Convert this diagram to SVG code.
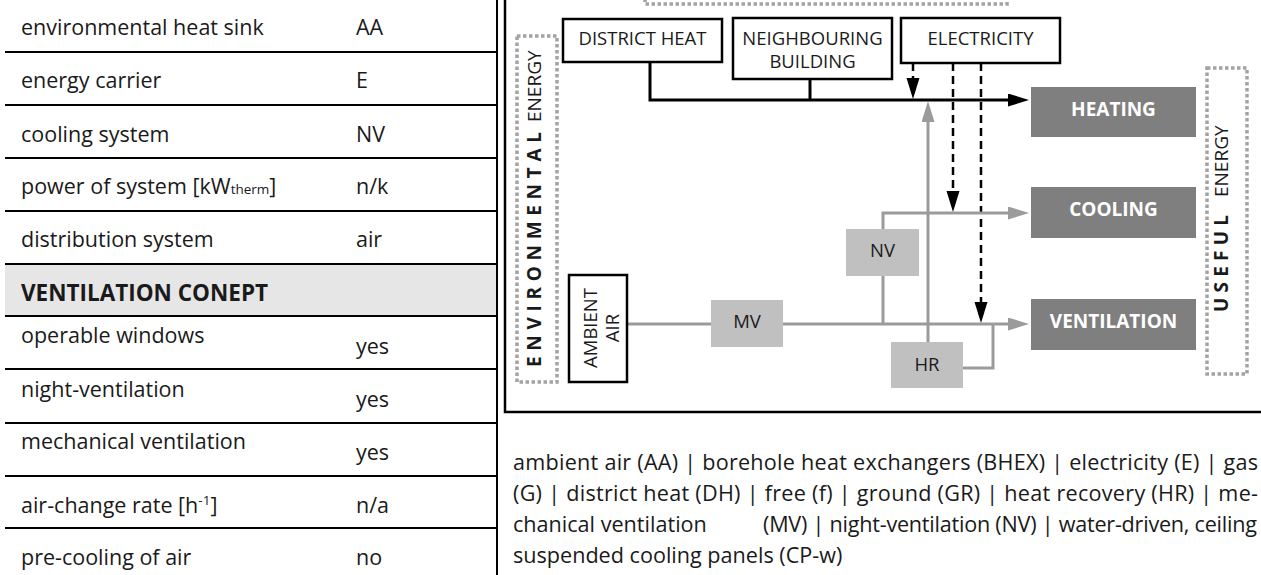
<svg xmlns="http://www.w3.org/2000/svg" width="1261" height="575" viewBox="0 0 1261 575">
<style>
text{font-family:"Open Sans","Noto Sans","Liberation Sans",sans-serif;fill:#1a1a1a}
.tb{font-size:21.5px}
.hd{font-size:22.5px;font-weight:bold}
.lgd{font-size:21.6px}
.bx{fill:#fff;stroke:#000;stroke-width:2.5}
.bt{font-size:18.5px;text-anchor:middle}
.lg{fill:#c0c0c0}
.dg{fill:#7f7f7f}
.wt{font-size:19px;font-weight:bold;fill:#fff;text-anchor:middle}
.rl{stroke:#000;stroke-width:2}
.gl{stroke:#9b9b9b;stroke-width:3;fill:none}
.bl{stroke:#000;stroke-width:3;fill:none}
.ds{stroke:#000;stroke-width:2.5;stroke-dasharray:8 5;fill:none}
.dot{stroke:#a3a3a3;stroke-width:3.5;stroke-dasharray:3.5 2.5;fill:none}
.rt{font-size:19px}
.rtb{font-size:19px;font-weight:bold}
</style>
<defs>
<marker id="ab" markerUnits="userSpaceOnUse" markerWidth="22" markerHeight="14" refX="0" refY="6.5" orient="auto"><path d="M0,0 L21,6.5 L0,13 z" fill="#000"/></marker>
<marker id="ag" markerUnits="userSpaceOnUse" markerWidth="22" markerHeight="14" refX="0" refY="6.5" orient="auto"><path d="M0,0 L21,6.5 L0,13 z" fill="#9b9b9b"/></marker>
</defs>
<rect width="1261" height="575" fill="#fff"/>

<g id="table">
<rect x="5" y="264" width="492" height="52" fill="#e6e6e6"/>
<line class="rl" x1="5" y1="52" x2="497" y2="52"/>
<line class="rl" x1="5" y1="105" x2="497" y2="105"/>
<line class="rl" x1="5" y1="158" x2="497" y2="158"/>
<line class="rl" x1="5" y1="211" x2="497" y2="211"/>
<line class="rl" x1="5" y1="264" x2="497" y2="264"/>
<line class="rl" x1="5" y1="316" x2="497" y2="316"/>
<line class="rl" x1="5" y1="369" x2="497" y2="369"/>
<line class="rl" x1="5" y1="423" x2="497" y2="423"/>
<line class="rl" x1="5" y1="476" x2="497" y2="476"/>
<line class="rl" x1="5" y1="528" x2="497" y2="528"/>
<line class="rl" x1="497" y1="0" x2="497" y2="575"/>
<text class="tb" x="21" y="35">environmental heat sink</text><text class="tb" x="356" y="35">AA</text>
<text class="tb" x="21" y="88">energy carrier</text><text class="tb" x="356" y="88">E</text>
<text class="tb" x="21" y="142">cooling system</text><text class="tb" x="356" y="142">NV</text>
<text class="tb" x="21" y="194">power of system [kW<tspan font-size="13.5">therm</tspan>]</text><text class="tb" x="356" y="194">n/k</text>
<text class="tb" x="21" y="247">distribution system</text><text class="tb" x="356" y="247">air</text>
<text class="hd" x="21" y="301">VENTILATION CONEPT</text>
<text class="tb" x="21" y="343">operable windows</text><text class="tb" x="356" y="354">yes</text>
<text class="tb" x="21" y="397">night-ventilation</text><text class="tb" x="356" y="407">yes</text>
<text class="tb" x="21" y="449">mechanical ventilation</text><text class="tb" x="356" y="460">yes</text>
<text class="tb" x="21" y="513">air-change rate [h<tspan font-size="13.5" dy="-8">-1</tspan><tspan dy="8">]</tspan></text><text class="tb" x="356" y="513">n/a</text>
<text class="tb" x="21" y="565">pre-cooling of air</text><text class="tb" x="356" y="565">no</text>
</g>

<g id="frame">
<path d="M505,0 V412 H1261" fill="none" stroke="#000" stroke-width="2.5"/>
</g>

<g id="source-group">
<rect class="dot" x="645" y="-50" width="362" height="54"/>
</g>

<g id="environmental-energy">
<rect class="dot" x="517" y="36" width="40" height="346"/>
<text class="rtb" transform="translate(541,367) rotate(-90)" textLength="235" lengthAdjust="spacing">ENVIRONMENTAL</text>
<text class="rt" transform="translate(541,122) rotate(-90)">ENERGY</text>
</g>

<g id="useful-energy">
<rect class="dot" x="1207" y="68" width="40" height="306"/>
<text class="rtb" transform="translate(1228,312) rotate(-90)" textLength="97" lengthAdjust="spacing">USEFUL</text>
<text class="rt" transform="translate(1228,197) rotate(-90)">ENERGY</text>
</g>

<g id="connectors">
<path class="bl" d="M650,62 V100 H1008" marker-end="url(#ab)"/>
<path class="bl" d="M810,79 V100"/>
<path class="ds" d="M913,63 V78" marker-end="url(#ab)"/>
<path class="ds" d="M953,63 V191" marker-end="url(#ab)"/>
<path class="ds" d="M981,63 V302" marker-end="url(#ab)"/>
<path class="gl" d="M628,324 H1008" marker-end="url(#ag)"/>
<path class="gl" d="M883,229 V213 H1008" marker-end="url(#ag)"/>
<path class="gl" d="M883,276 V324"/>
<path class="gl" d="M928,342 V122" marker-end="url(#ag)"/>
<path class="gl" d="M963,368 H993 V324"/>
</g>

<g id="district-heat">
<rect class="bx" x="563" y="19" width="159" height="43"/>
<text class="bt" x="642.5" y="45">DISTRICT HEAT</text>
</g>
<g id="neighbouring-building">
<rect class="bx" x="733" y="18" width="159" height="61"/>
<text class="bt" x="812.5" y="45">NEIGHBOURING</text>
<text class="bt" x="812.5" y="68">BUILDING</text>
</g>
<g id="electricity">
<rect class="bx" x="901" y="18" width="159" height="45"/>
<text class="bt" x="980.5" y="45">ELECTRICITY</text>
</g>
<g id="ambient-air">
<rect class="bx" x="569" y="275" width="58" height="107"/>
<text class="bt" transform="translate(597,328) rotate(-90)">AMBIENT</text>
<text class="bt" transform="translate(619,328) rotate(-90)">AIR</text>
</g>
<g id="mv">
<rect class="lg" x="711" y="300" width="72" height="47"/>
<text class="bt" x="747" y="328">MV</text>
</g>
<g id="nv">
<rect class="lg" x="846" y="229" width="73" height="47"/>
<text class="bt" x="882.5" y="257">NV</text>
</g>
<g id="hr">
<rect class="lg" x="891" y="342" width="72" height="46"/>
<text class="bt" x="927" y="371">HR</text>
</g>
<g id="heating">
<rect class="dg" x="1031" y="87" width="165" height="50"/>
<text class="wt" x="1113.5" y="116">HEATING</text>
</g>
<g id="cooling">
<rect class="dg" x="1031" y="187" width="165" height="51"/>
<text class="wt" x="1113.5" y="216">COOLING</text>
</g>
<g id="ventilation">
<rect class="dg" x="1031" y="299" width="165" height="51"/>
<text class="wt" x="1113.5" y="328">VENTILATION</text>
</g>

<g id="legend">
<text class="lgd" x="513" y="470" textLength="745" lengthAdjust="spacing">ambient air (AA) | borehole heat exchangers (BHEX) | electricity (E) | gas</text>
<text class="lgd" x="513" y="501" textLength="745" lengthAdjust="spacing">(G) | district heat (DH) | free (f) | ground (GR) | heat recovery (HR) | me-</text>
<text class="lgd" x="513" y="532">chanical ventilation</text>
<text class="lgd" x="763" y="532" textLength="494" lengthAdjust="spacing">(MV) | night-ventilation (NV) | water-driven, ceiling</text>
<text class="lgd" x="513" y="563">suspended cooling panels (CP-w)</text>
</g>
</svg>
